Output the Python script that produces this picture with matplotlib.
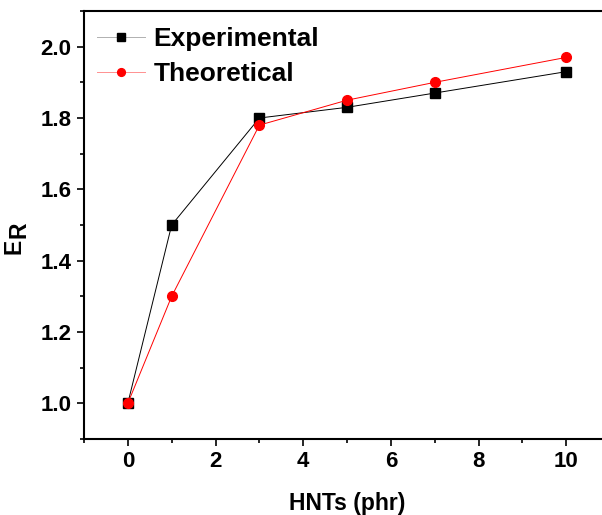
import matplotlib.pyplot as plt
from matplotlib.ticker import MultipleLocator

plt.rcParams["font.family"] = ["Liberation Sans", "DejaVu Sans"]
plt.rcParams["font.weight"] = "bold"

hnts = [0, 1, 3, 5, 7, 10]
experimental = [1.00, 1.50, 1.80, 1.83, 1.87, 1.93]
theoretical = [1.00, 1.30, 1.78, 1.85, 1.90, 1.97]

fig = plt.figure(figsize=(6.02, 5.15), dpi=100)
ax = fig.add_axes([0.1395, 0.1476, 0.874, 0.831])

ax.plot(hnts, experimental, color="black", lw=0.7, marker="s", ms=6.5,
        mfc="black", mec="black", label="Experimental")
ax.plot(hnts, theoretical, color="red", lw=0.7, marker="o", ms=7,
        mfc="red", mec="red", label="Theoretical")

ax.set_xlim(-1, 11)
ax.set_ylim(0.9, 2.1)
ax.xaxis.set_major_locator(MultipleLocator(2))
ax.xaxis.set_minor_locator(MultipleLocator(1))
ax.yaxis.set_major_locator(MultipleLocator(0.2))
ax.yaxis.set_minor_locator(MultipleLocator(0.1))
ax.yaxis.set_major_formatter(plt.FormatStrFormatter("%.1f"))

ax.tick_params(which="major", direction="out", length=5, width=1.2,
               labelsize=16, pad=4)
ax.tick_params(which="minor", direction="out", length=3, width=1.2)
for lbl in ax.get_xticklabels() + ax.get_yticklabels():
    lbl.set_fontweight("bold")
for s in ax.spines.values():
    s.set_linewidth(1.5)

ax.set_xlabel("HNTs (phr)", fontsize=16.5, fontweight="bold", labelpad=14)
# E with a same-size, slightly lowered R, as in the original
fig.text(14 / 602, 1 - 246 / 515, "E", rotation=90, fontsize=16.5,
         fontweight="bold", ha="center", va="center")
fig.text(19 / 602, 1 - 230 / 515, "R", rotation=90, fontsize=16.5,
         fontweight="bold", ha="center", va="center")

leg = ax.legend(loc="upper left", bbox_to_anchor=(-0.007, 1.0), frameon=False,
                prop={"weight": "bold", "size": 19}, handlelength=1.85,
                handletextpad=0.3, borderaxespad=0.22, labelspacing=0.42,
                markerscale=0.8)
leg.get_lines()[0].set_color("#b0b0b0")
leg.get_lines()[1].set_color("#ff9090")

fig.savefig("out.png", dpi=100)
